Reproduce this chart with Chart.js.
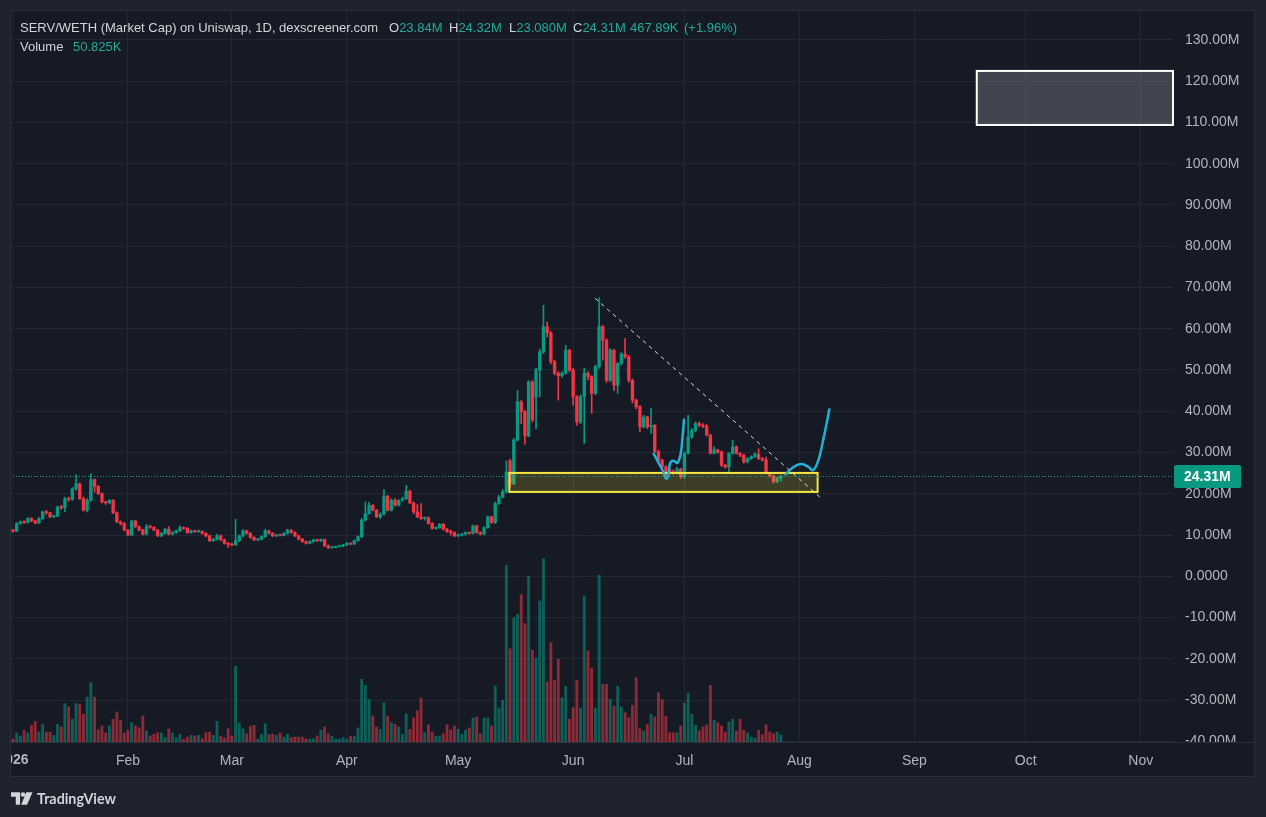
<!DOCTYPE html>
<html><head><meta charset="utf-8">
<script src="https://cdn.jsdelivr.net/npm/chart.js@4.4.1/dist/chart.umd.min.js"></script>
<style>
html,body{margin:0;padding:0;background:#1e222d;overflow:hidden;}
#wrap{position:relative;width:1266px;height:817px;}
canvas{position:absolute;left:0;top:0;}
.hd{position:absolute;font-family:'Liberation Sans',Arial,sans-serif;font-size:13px;color:#d1d4dc;white-space:nowrap;line-height:16px;}
.v{color:#22ab94;}
.tv{position:absolute;left:11px;top:790px;display:flex;align-items:center;font-family:'Lato','Liberation Sans',Arial,sans-serif;font-weight:700;font-size:14.3px;color:#d1d4dc;}
</style></head><body>
<div id="wrap">
<canvas id="c" width="1266" height="817"></canvas>
<div class="hd" style="left:20px;top:20px">SERV/WETH (Market Cap) on Uniswap, 1D, dexscreener.com</div>
<div class="hd" style="left:389px;top:20px">O<span class="v">23.84M</span></div>
<div class="hd" style="left:449px;top:20px">H<span class="v">24.32M</span></div>
<div class="hd" style="left:509px;top:20px">L<span class="v">23.080M</span></div>
<div class="hd" style="left:573px;top:20px">C<span class="v">24.31M</span></div>
<div class="hd v" style="left:630px;top:20px">467.89K</div>
<div class="hd v" style="left:684px;top:20px">(+1.96%)</div>
<div class="hd" style="left:20px;top:39px">Volume</div>
<div class="hd v" style="left:73px;top:39px">50.825K</div>
<div class="tv"><svg width="22" height="13" viewBox="0 0 23 13"><path d="M0 0H9.5V13H5V4.6H0Z" fill="#d1d4dc"/><circle cx="12.6" cy="2.4" r="2.4" fill="#d1d4dc"/><path d="M16 0H22.5L16.8 13H10.6Z" fill="#d1d4dc"/></svg><span style="margin-left:4px">TradingView</span></div>
</div>
<script>
// ---------- data (market cap in millions, volume in thousands) ----------
// daily candles, first candle = 1 Jan 2026 (day 0)
const opens = [
11.2,10.9,12.8,13.2,13.0,14.0,13.4,12.9,14.0,15.6,
15.4,14.4,14.6,16.8,16.6,18.8,18.6,21.2,22.4,18.8,
16.0,18.4,23.4,21.8,20.0,18.0,17.8,18.4,15.4,13.2,
12.8,11.2,10.0,13.4,12.0,11.2,10.2,12.0,11.9,11.2,
9.8,10.4,11.4,10.2,10.6,11.0,11.8,11.6,10.6,11.0,
10.8,10.9,10.4,9.8,8.6,8.9,9.8,8.8,8.0,7.7,
7.6,8.6,9.8,11.0,10.4,9.4,8.8,9.0,9.6,11.0,
10.4,9.8,10.0,9.9,10.4,11.2,10.6,9.8,9.0,8.4,
8.0,8.4,8.8,8.6,8.9,7.4,6.9,7.0,7.2,7.3,
7.6,8.0,7.8,8.6,9.6,13.6,15.2,17.2,16.0,14.4,
15.0,19.4,16.0,18.4,17.2,18.4,18.8,20.6,17.8,15.6,
14.4,14.0,14.2,12.8,11.6,11.8,12.6,11.4,10.8,10.6,
9.8,10.0,10.2,10.6,10.4,12.2,10.6,10.2,11.8,14.4,
13.0,17.6,19.2,20.5,28.0,22.4,33.0,42.3,39.9,34.0,
47.1,43.5,50.0,54.4,60.5,59.0,52.0,49.2,48.6,49.2,
54.8,50.0,43.5,37.4,43.5,49.2,48.4,44.3,50.8,60.5,
57.2,47.5,54.8,46.3,51.6,53.9,53.2,47.5,42.7,41.1,
36.2,38.6,36.2,36.6,30.2,28.1,26.5,25.8,25.4,25.0,
26.0,24.1,29.8,33.8,35.4,37.0,36.6,36.4,34.2,29.8,
30.6,30.1,26.9,26.5,29.8,31.4,29.8,29.4,27.7,28.5,
29.0,29.6,28.5,28.2,25.0,24.3,22.9,23.84];
const closes = [
10.9,12.8,13.2,13.0,14.0,13.4,12.9,14.0,15.6,15.4,
14.4,14.6,16.8,16.6,18.8,18.6,21.2,22.4,18.8,16.0,
18.4,23.4,21.8,20.0,18.0,17.8,18.4,15.4,13.2,12.8,
11.2,10.0,13.4,12.0,11.2,10.2,12.0,11.9,11.2,9.8,
10.4,11.4,10.2,10.6,11.0,11.8,11.6,10.6,11.0,10.8,
10.9,10.4,9.8,8.6,8.9,9.8,8.8,8.0,7.7,7.6,
8.6,9.8,11.0,10.4,9.4,8.8,9.0,9.6,11.0,10.4,
9.8,10.0,9.9,10.4,11.2,10.6,9.8,9.0,8.4,8.0,
8.4,8.8,8.6,8.9,7.4,6.9,7.0,7.2,7.3,7.6,
8.0,7.8,8.6,9.6,13.6,15.2,17.2,16.0,14.4,15.0,
19.4,16.0,18.4,17.2,18.4,18.8,20.6,17.8,15.6,14.4,
14.0,14.2,12.8,11.6,11.8,12.6,11.4,10.8,10.6,9.8,
10.0,10.2,10.6,10.4,12.2,10.6,10.2,11.8,14.4,13.0,
17.6,19.2,20.5,25.3,22.4,33.0,42.3,39.9,34.0,47.1,
38.0,50.0,54.4,60.5,59.0,52.0,49.2,48.6,49.2,54.8,
50.0,43.5,37.4,43.5,49.2,48.4,44.3,50.8,60.5,57.2,
47.5,54.8,46.3,51.6,53.9,53.2,47.5,42.7,41.1,36.2,
38.6,36.2,36.6,30.2,28.1,26.5,25.0,25.4,25.0,26.0,
24.1,29.8,33.8,35.4,37.0,36.6,36.4,34.2,29.8,30.6,
30.1,26.9,26.5,29.8,31.4,29.8,29.4,27.7,28.5,29.0,
29.6,28.5,28.2,25.0,24.3,22.9,23.84,24.31];
const highs = [
11.4,13.0,13.4,13.5,14.2,14.2,13.6,14.2,15.8,16.0,
15.5,14.8,17.0,17.2,19.2,19.2,21.5,24.6,22.6,19.2,
18.8,24.8,23.6,22.0,20.2,18.2,18.6,18.6,15.6,13.4,
13.0,11.4,13.6,13.6,12.2,11.4,12.6,12.4,12.0,11.4,
10.6,11.6,12.0,10.8,11.2,12.2,12.0,11.8,11.2,11.2,
11.2,11.0,10.6,10.0,9.2,10.2,10.0,9.0,8.2,8.0,
13.8,10.0,11.4,11.2,10.6,9.6,9.2,9.8,11.4,11.2,
10.6,10.2,10.2,10.6,11.4,11.3,10.8,10.0,9.2,8.6,
8.6,9.0,9.0,9.1,9.0,7.6,7.2,7.3,7.4,7.8,
8.2,8.1,8.8,9.8,14.0,18.0,18.0,17.4,16.2,15.4,
21.0,19.6,18.8,18.8,18.6,19.2,22.0,20.8,18.0,17.4,
17.6,14.4,14.4,13.0,12.0,12.8,12.8,11.6,11.2,10.8,
10.2,10.4,10.8,10.8,12.4,12.4,10.8,12.0,14.6,14.6,
18.0,19.6,21.0,28.0,28.4,33.4,45.0,42.6,40.2,47.4,
47.4,50.4,55.0,65.7,61.7,59.3,52.4,49.6,49.6,56.0,
55.0,50.4,43.8,44.0,50.4,49.6,48.6,51.2,67.5,60.8,
57.6,55.2,55.0,51.8,54.2,57.6,53.6,47.8,43.0,41.4,
39.0,38.8,40.7,36.8,30.6,28.4,26.8,26.2,25.8,26.4,
26.2,30.2,39.0,35.8,37.4,37.4,37.0,36.8,34.4,31.4,
30.8,30.4,27.2,30.0,33.0,31.6,30.0,29.6,28.8,29.2,
29.9,30.9,28.8,28.9,25.2,24.5,24.0,24.32];
const lows = [
10.7,10.8,12.6,12.8,12.9,13.2,12.7,12.8,13.8,15.0,
14.2,14.2,14.4,16.2,15.6,18.2,18.4,20.8,18.6,15.8,
15.6,18.2,20.4,19.8,17.8,17.4,17.6,15.2,13.0,12.4,
11.0,9.8,9.8,11.8,11.0,10.0,10.0,11.6,11.0,9.6,
9.6,10.2,10.0,10.0,10.4,10.8,11.4,10.4,10.4,10.6,
10.6,10.2,9.6,8.4,8.4,8.8,8.6,7.8,7.0,7.4,
7.5,8.4,9.6,10.2,9.2,8.6,8.6,8.8,9.4,10.2,
9.6,9.6,9.7,9.8,10.2,10.4,9.6,8.8,8.2,7.8,
7.9,8.2,8.4,8.4,7.2,6.7,6.8,6.9,7.1,7.2,
7.5,7.6,7.7,8.5,9.4,13.4,15.0,15.8,14.2,14.0,
14.8,15.8,15.8,17.0,17.0,18.2,18.6,17.6,15.2,14.2,
13.8,13.6,12.6,11.4,11.4,11.6,11.2,10.6,10.0,9.6,
9.6,9.8,10.0,10.2,10.2,10.4,10.0,10.0,11.6,12.8,
12.8,17.4,19.0,20.2,21.6,22.2,32.8,37.0,32.0,33.8,
37.4,35.8,43.5,54.0,58.0,51.5,48.8,42.7,48.2,49.0,
49.6,41.5,36.6,37.0,32.2,47.6,39.5,44.0,50.4,52.4,
47.0,47.2,45.0,44.3,51.2,52.8,47.0,42.0,40.6,35.0,
36.0,35.8,34.6,30.0,27.8,26.2,23.7,25.0,24.6,24.8,
23.7,23.7,29.6,33.4,35.0,36.2,36.0,34.0,29.6,29.6,
29.8,26.6,26.2,25.3,29.6,29.6,29.0,27.4,27.5,28.3,
28.8,28.3,27.9,24.8,24.0,22.6,22.7,23.08];
const volumes = [
20,65,43,85,65,121,150,72,128,72,
72,48,128,109,278,254,165,278,273,201,
326,430,326,89,116,65,116,165,218,157,
65,85,140,116,102,189,80,43,56,67,
65,31,96,65,31,56,20,36,48,43,
48,24,67,72,48,150,41,29,96,43,
549,138,96,60,114,121,20,56,133,53,
56,48,65,36,56,31,36,36,36,24,
20,24,43,85,109,60,41,20,20,31,
20,41,41,102,455,411,310,189,109,92,
285,189,140,128,109,56,205,92,174,225,
319,67,125,72,43,43,60,125,89,116,
92,56,85,102,174,181,60,174,174,116,
406,247,302,1281,676,901,926,1068,858,1201,
665,609,1022,1330,435,720,447,600,321,404,
165,249,447,247,1059,660,537,247,1209,418,
418,310,261,404,254,212,176,266,466,96,
78,128,201,181,357,307,186,67,67,67,
116,283,355,201,121,80,109,125,411,157,
140,116,72,145,165,80,165,85,65,36,
29,85,53,125,72,60,72,50.825];

// time axis: day index of each month start (2026) and its label
const monthTicks  = [0,31,59,90,120,151,181,212,243,273,304];
const monthLabels = ['2026','Feb','Mar','Apr','May','Jun','Jul','Aug','Sep','Oct','Nov'];
// price axis ticks (millions)
const priceTicks = [-40,-30,-20,-10,0,10,20,30,40,50,60,70,80,90,100,110,120,130];
const lastPrice = 24.31;

// drawings (day index / millions)
const trendDays = [156.9, 217.5];
const trendVals = [67.4, 19.2];
const zoneDays  = [133.8, 216.9];
const zoneVals  = [20.45, 25.05];
const boxDays   = [259.8, 312.7];
const boxVals   = [109.4, 122.5];
const path1Days = [172.6,173.9,175.1,176.0,176.6,177.1,178.0,179.1,180.0,180.5,180.9];
const path1Vals = [29.9,27.7,25.7,23.7,24.1,27.3,28.0,27.5,29.8,33.8,38.2];
const path2Days = [208.1,209.4,210.8,212.6,214.4,215.7,217.1,218.4,219.5,220.1];
const path2Vals = [24.5,25.7,26.7,27.2,26.5,25.7,28.1,33.0,37.8,40.7];

// ---------- chart ----------
const UP = '#089981', DOWN = '#f23645';
const dayIndex = opens.map((_, i) => i);
const isUp = closes.map((c, i) => c >= opens[i]);
const candleCol = isUp.map(u => u ? UP : DOWN);
const volCol = isUp.map(u => u ? 'rgba(8,153,129,0.55)' : 'rgba(242,54,69,0.55)');
const pts = (xs, ys) => xs.map((x, i) => ({x, y: ys[i]}));
const GRID = '#232733', TXT = '#b2b5be';
const FONT = "'Liberation Sans', Arial, sans-serif";
const fmt = v => v === 0 ? '0.0000' : v.toFixed(2) + 'M';

const deco = {
  id: 'deco',
  beforeDraw(ch) {
    const c = ch.ctx, a = ch.chartArea, ys = ch.scales.y, xs = ch.scales.x;
    c.save();
    c.fillStyle = '#1e222d'; c.fillRect(0, 0, ch.width, ch.height);
    c.fillStyle = '#161a25';
    c.fillRect(a.left, a.top, a.right - a.left + ys.width, a.bottom - a.top + xs.height);
    c.restore();
  },
  afterDatasetDraw(ch, args) {
    if (args.meta.label !== 'bodies') return;
    const c = ch.ctx, x = ch.scales.x, y = ch.scales.y;
    c.save();
    // support zone
    let x0 = x.getPixelForValue(zoneDays[0]), x1 = x.getPixelForValue(zoneDays[1]);
    let y0 = y.getPixelForValue(zoneVals[1]), y1 = y.getPixelForValue(zoneVals[0]);
    c.fillStyle = 'rgba(255,235,59,0.17)';
    c.fillRect(x0, y0, x1 - x0, y1 - y0);
    c.strokeStyle = '#f5e642'; c.lineWidth = 2;
    c.strokeRect(x0, y0, x1 - x0, y1 - y0);
    // grey box
    x0 = x.getPixelForValue(boxDays[0]); x1 = x.getPixelForValue(boxDays[1]);
    y0 = y.getPixelForValue(boxVals[1]); y1 = y.getPixelForValue(boxVals[0]);
    c.fillStyle = 'rgba(120,123,134,0.45)';
    c.fillRect(x0, y0, x1 - x0, y1 - y0);
    c.strokeStyle = '#ffffff'; c.lineWidth = 2;
    c.strokeRect(x0, y0, x1 - x0, y1 - y0);
    c.restore();
  },
  afterDraw(ch) {
    const c = ch.ctx, a = ch.chartArea, x = ch.scales.x, y = ch.scales.y;
    const right = a.right + y.width, bottom = a.bottom + x.height;
    c.save();
    // last price dotted line
    const py = Math.round(y.getPixelForValue(lastPrice)) + 0.5;
    c.strokeStyle = UP; c.lineWidth = 1; c.setLineDash([1, 2]);
    c.beginPath(); c.moveTo(a.left, py); c.lineTo(a.right, py); c.stroke();
    c.setLineDash([]);
    // separators and border
    c.strokeStyle = '#2a2e39'; c.lineWidth = 1;
    c.beginPath(); c.moveTo(a.left, a.bottom + 0.5); c.lineTo(right, a.bottom + 0.5); c.stroke();
    c.strokeRect(a.left + 0.5, a.top + 0.5, right - a.left - 1, bottom - a.top - 1);
    // clipped -40 label
    c.save();
    c.beginPath(); c.rect(a.right, a.top, y.width, a.bottom - a.top); c.clip();
    c.fillStyle = TXT; c.font = '14px ' + FONT; c.textBaseline = 'middle'; c.textAlign = 'left';
    c.fillText(fmt(-40), a.right + 12, y.getPixelForValue(-40));
    c.restore();
    // clipped year label
    c.save();
    c.beginPath(); c.rect(a.left + 1, a.bottom, 200, x.height); c.clip();
    c.fillStyle = TXT; c.font = 'bold 14px ' + FONT; c.textBaseline = 'middle'; c.textAlign = 'center';
    c.fillText(monthLabels[0], x.getPixelForValue(monthTicks[0]), a.bottom + 18);
    c.restore();
    // last price label
    const lx = a.right + 1, lw = 67, lh = 23;
    c.fillStyle = UP;
    c.beginPath(); c.roundRect(lx, py - lh / 2, lw, lh, 2); c.fill();
    c.fillStyle = '#ffffff'; c.font = 'bold 14px ' + FONT; c.textBaseline = 'middle'; c.textAlign = 'left';
    c.fillText(fmt(lastPrice), a.right + 11, py + 1);
    c.restore();
  }
};

new Chart(document.getElementById('c'), {
  type: 'bar',
  data: {
    datasets: [
      {type: 'line', label: 'path1', data: pts(path1Days, path1Vals), borderColor: '#1fb2d4', borderWidth: 2.5, tension: 0.4, pointRadius: 0, order: 1, yAxisID: 'y'},
      {type: 'line', label: 'path2', data: pts(path2Days, path2Vals), borderColor: '#1fb2d4', borderWidth: 2.5, tension: 0.4, pointRadius: 0, order: 1, yAxisID: 'y'},
      {type: 'line', label: 'trend', data: pts(trendDays, trendVals), borderColor: 'rgba(235,235,240,0.9)', borderWidth: 1, borderDash: [4, 4], pointRadius: 0, order: 2, yAxisID: 'y'},
      {type: 'bar', label: 'bodies', data: dayIndex.map((d, i) => ({x: d, y: [opens[i], closes[i]]})), backgroundColor: candleCol, barThickness: 2.7, minBarLength: 1, grouped: false, order: 8, yAxisID: 'y'},
      {type: 'bar', label: 'wicks', data: dayIndex.map((d, i) => ({x: d, y: [lows[i], highs[i]]})), backgroundColor: candleCol, barThickness: 1, grouped: false, order: 9, yAxisID: 'y'},
      {type: 'bar', label: 'volume', data: dayIndex.map((d, i) => ({x: d, y: volumes[i]})), backgroundColor: volCol, barThickness: 2.2, grouped: false, order: 10, yAxisID: 'yv'}
    ]
  },
  options: {
    responsive: false,
    animation: false,
    events: [],
    layout: {padding: {left: 10, top: 10, right: 11, bottom: 40}},
    plugins: {legend: {display: false}, tooltip: {enabled: false}},
    scales: {
      x: {
        type: 'linear', min: -0.8, max: 312.7, offset: false,
        grid: {color: GRID, drawTicks: false, offset: false},
        border: {display: false},
        afterBuildTicks: s => { s.ticks = monthTicks.map(v => ({value: v})); },
        afterFit: s => { s.height = 35; s.paddingLeft = 0; s.paddingRight = 0; },
        ticks: {
          autoSkip: false, maxRotation: 0, padding: 11, color: TXT,
          font: {family: FONT, size: 14},
          callback: v => { const k = monthTicks.indexOf(v); return k > 0 ? monthLabels[k] : ''; }
        }
      },
      y: {
        position: 'right', min: -40.18, max: 137.27,
        grid: {color: GRID, drawTicks: false},
        border: {display: false},
        afterBuildTicks: s => { s.ticks = priceTicks.map(v => ({value: v})); },
        afterFit: s => { s.width = 82; s.paddingTop = 0; s.paddingBottom = 0; },
        ticks: {
          padding: 12, color: TXT, font: {family: FONT, size: 14},
          callback: v => v === -40 ? '' : fmt(v)
        }
      },
      yv: {display: false, min: 0, max: 5307}
    }
  },
  plugins: [deco]
});
</script>
</body></html>
